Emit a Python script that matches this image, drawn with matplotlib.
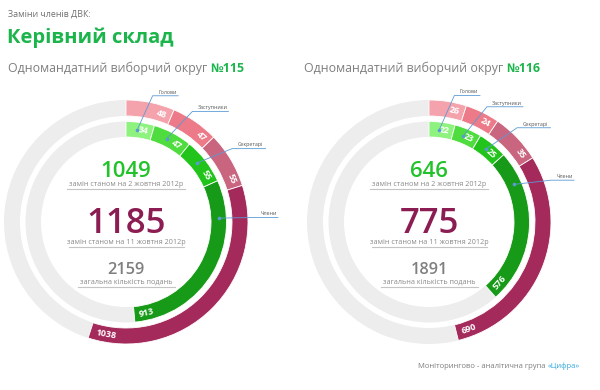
import numpy as np
import matplotlib.pyplot as plt
from matplotlib.patches import Wedge

plt.rcParams['font.family'] = ['Open Sans', 'DejaVu Sans']

# дані
roles = ['Голови', 'Заступники', 'Секретарі', 'Члени']
okrug = ['№115', '№116']
oct2_115 = [34, 47, 55, 913]
oct11_115 = [48, 47, 55, 1038]
oct2_116 = [22, 23, 25, 576]
oct11_116 = [26, 24, 35, 690]
total_oct2 = [1049, 646]
total_oct11 = [1185, 775]
total_all = [2159, 1891]

# in the original the small arcs are stretched so the numbers fit,
# and the right chart uses its own scale for a full turn
circle_value = [2159, 1680]
small_zoom = [2.9, 3.2]

green_cols = ['#8ef27e', '#4fdc3e', '#22c41c', '#179a17']
red_cols = ['#f4a3ad', '#ec7a88', '#c9657f', '#a52a5c']
track = '#ededed'
W, H = 600, 390


def fig_xy(x, y):
    return x / W, 1 - y / H


def arc_angles(vals, full, zoom):
    step = 360.0 / full
    ends = list(np.cumsum(np.array(vals[:-1]) * step * zoom))
    ends.append(sum(vals) * step)
    starts = [0.0] + ends[:-1]
    return starts, ends


def polar(r, a):
    t = np.deg2rad(a)
    return r * np.sin(t), r * np.cos(t)


def ring(ax, vals, colors, r, w, full, zoom):
    ax.add_patch(Wedge((0, 0), r, 0, 360, width=w, facecolor=track, edgecolor='none'))
    starts, ends = arc_angles(vals, full, zoom)
    rm = r - w / 2
    for a0, a1, c, v in zip(starts, ends, colors, vals):
        ax.add_patch(Wedge((0, 0), r, 90 - a1, 90 - a0, width=w, facecolor=c,
                           edgecolor='white', lw=0.6))
        txt = str(v)
        off = np.degrees((len(txt) * 3.3 + 3) / rm)
        a = a1 - off
        rot = -a if a < 90 else 180 - a
        x, y = polar(rm, a)
        ax.text(x, y, txt, rotation=rot, rotation_mode='anchor', ha='center', va='center',
                color='white', fontsize=6.5, fontweight='bold', zorder=4)
    return starts, ends


def draw_chart(cx, cy, k, inner_vals, outer_vals):
    ax = fig.add_axes([(cx - 150) / W, 1 - (cy + 150) / H, 300 / W, 300 / H])
    ax.set_xlim(-150, 150)
    ax.set_ylim(-150, 150)
    ax.axis('off')

    ring(ax, outer_vals, red_cols, 122, 16, circle_value[k], small_zoom[k])
    r_in, w_in = 100.5, 15.5
    starts, ends = ring(ax, inner_vals, green_cols, r_in, w_in, circle_value[k], small_zoom[k])

    # виноски
    for i, role in enumerate(roles):
        frac = 0.42 if i < 3 else 0.2
        ad = starts[i] + frac * (ends[i] - starts[i])
        dx, dy = polar(r_in - w_in / 2, ad)
        ex, ey = polar(129, min(ad + 5, 88))
        ln = len(role) * 2.6 + 10
        ax.plot([dx, ex, ex + ln], [dy, ey, ey], color='#5b9bd5', lw=0.6,
                clip_on=False, zorder=5)
        ax.plot(dx, dy, 'o', color='#5b9bd5', ms=1.6, zorder=5)
        ax.text(ex + ln / 2 + 2, ey + 1.2, role, ha='center', va='bottom',
                fontsize=3.8, color='#555555', clip_on=False)

    # підписи в центрі
    ax.text(0, 45, str(total_oct2[k]), ha='center', va='baseline',
            fontsize=16, fontweight=600, color='#22c22a')
    ax.text(0, 36, 'замін станом на 2 жовтня 2012р', ha='center', va='baseline',
            fontsize=5.2, color='#8a8a8a')
    ax.plot([-59, 59], [33.2, 33.2], color='#c4c4c4', lw=0.8)

    ax.text(0, -10.5, str(total_oct11[k]), ha='center', va='baseline',
            fontsize=25, fontweight=600, color='#8c1d52')
    ax.text(0, -22.3, 'замін станом на 11 жовтня 2012р', ha='center', va='baseline',
            fontsize=5.2, color='#8a8a8a')
    ax.plot([-57.5, 57.5], [-25.2, -25.2], color='#c4c4c4', lw=0.8)

    ax.text(0, -52, str(total_all[k]), ha='center', va='baseline',
            fontsize=11.7, fontweight=600, color='#7f7f7f')
    ax.text(0, -61.5, 'загальна кількість подань', ha='center', va='baseline',
            fontsize=5.2, color='#8a8a8a')
    ax.plot([-48.5, 48.5], [-64.5, -64.5], color='#c4c4c4', lw=0.8)


fig = plt.figure(figsize=(6, 3.9), dpi=100)
fig.patch.set_facecolor('white')

fig.text(*fig_xy(8, 17), 'Заміни членів ДВК:', fontsize=6.4, color='#707070', va='baseline')
fig.text(*fig_xy(7, 42.5), 'Керівний склад', fontsize=14.5, color='#1bb54c',
         fontweight='bold', va='baseline')

for k, x0 in enumerate([8, 304]):
    t = fig.text(*fig_xy(x0, 72), 'Одномандатний виборчий округ ', fontsize=8.9,
                 color='#7f7f7f', va='baseline')
    fig.canvas.draw()
    bb = t.get_window_extent()
    fig.text(bb.x1 / fig.dpi / 6, 1 - 72 / H, okrug[k], fontsize=8.9, color='#1bb54c',
             fontweight='bold', va='baseline')

draw_chart(126, 222, 0, oct2_115, oct11_115)
draw_chart(429, 222, 1, oct2_116, oct11_116)

t = fig.text(*fig_xy(418, 368), 'Моніторингово - аналітична група ', fontsize=5.5,
             color='#7f7f7f', va='baseline')
fig.canvas.draw()
bb = t.get_window_extent()
fig.text(bb.x1 / fig.dpi / 6, 1 - 368 / H, '«Цифра»', fontsize=5.5, color='#35a8dc',
         va='baseline')

fig.savefig('out.png', dpi=100)
